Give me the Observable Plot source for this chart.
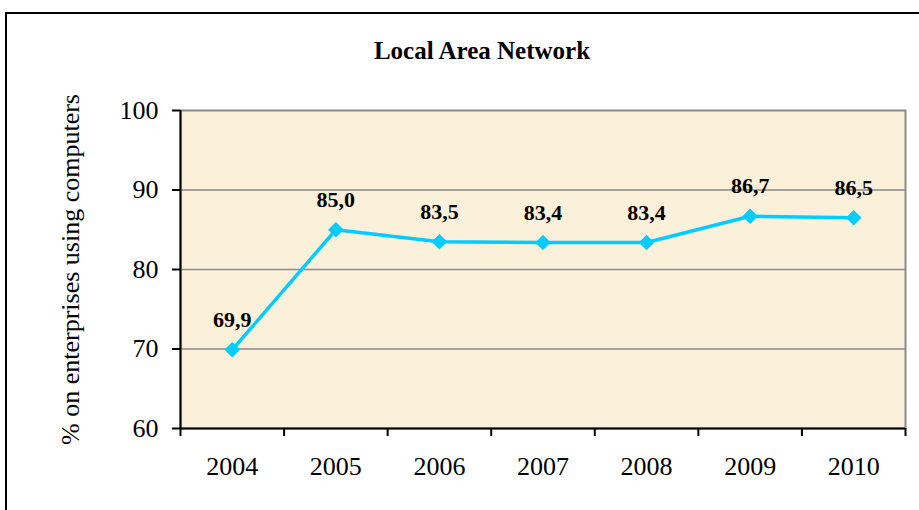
<!DOCTYPE html>
<html>
<head>
<meta charset="utf-8">
<script src="https://cdn.jsdelivr.net/npm/d3@7"></script>
<script src="https://cdn.jsdelivr.net/npm/@observablehq/plot@0.6"></script>
<style>
  html, body { margin: 0; padding: 0; background: #fff; overflow: hidden; }
  #wrap { position: relative; width: 919px; height: 510px; overflow: hidden; }
  #frame { position: absolute; left: 5px; top: 12px; width: 1000px; height: 600px; border: 2px solid #000; box-sizing: border-box; }
  #title { position: absolute; left: 0; top: 38px; width: 964px; text-align: center; line-height: 1;
    font-family: "Liberation Serif", "Times New Roman", serif; font-weight: bold; font-size: 25px; }
  #chart { position: absolute; left: 0; top: 0; }
</style>
</head>
<body>
<div id="wrap">
  <div id="frame"></div>
  <div id="chart"></div>
  <div id="title">Local Area Network</div>
</div>
<script>
const years = [2004, 2005, 2006, 2007, 2008, 2009, 2010];
const values = [69.9, 85.0, 83.5, 83.4, 83.4, 86.7, 86.5];
const valueLabels = ["69,9", "85,0", "83,5", "83,4", "83,4", "86,7", "86,5"];
const yTicks = [60, 70, 80, 90, 100];
const gridValues = [70, 80, 90];
const yLabel = "% on enterprises using computers";

const data = years.map((year, i) => ({year, value: values[i], label: valueLabels[i]}));
const boundaries = [years[0] - 0.5, ...years.map(y => y + 0.5)];

const font = '"Liberation Serif", "Times New Roman", serif';

const chart = Plot.plot({
  width: 919,
  height: 510,
  marginLeft: 180,
  marginRight: 14,
  marginTop: 110,
  marginBottom: 82,
  style: { fontFamily: font, color: "#000", background: "transparent", overflow: "visible" },
  x: { type: "linear", domain: [boundaries[0], boundaries[boundaries.length - 1]] },
  y: { domain: [60, 100] },
  marks: [
    Plot.frame({ fill: "#FBF0DA", stroke: "#8a8a8a", strokeWidth: 2 }),
    Plot.ruleY(gridValues, { stroke: "#8a8a8a", strokeWidth: 1.5 }),
    Plot.ruleX([boundaries[0]], { stroke: "#000", strokeWidth: 2 }),
    Plot.ruleY([60], { stroke: "#000", strokeWidth: 2 }),
    Plot.axisY({
      ticks: yTicks, tickSize: 8, tickPadding: 14, fontSize: 26, tickFormat: d => String(d),
      stroke: "#000", strokeWidth: 2,
      label: yLabel, labelAnchor: "center", labelArrow: "none", labelOffset: 120
    }),
    Plot.axisX({ ticks: boundaries, tickSize: 8, tickFormat: () => "", stroke: "#000", strokeWidth: 2, label: null }),
    Plot.axisX({ ticks: years, tickSize: 0, tickPadding: 28, fontSize: 26, tickFormat: d => String(d), label: null }),
    Plot.line(data, { x: "year", y: "value", stroke: "#00CCFF", strokeWidth: 3.5 }),
    Plot.dot(data, { x: "year", y: "value", symbol: "diamond2", r: 7, fill: "#00CCFF", stroke: "none" }),
    Plot.text(data, { x: "year", y: "value", text: "label", dy: -30, fontSize: 22, fontWeight: "bold", fill: "#000" })
  ]
});
document.getElementById("chart").appendChild(chart);
</script>
</body>
</html>
